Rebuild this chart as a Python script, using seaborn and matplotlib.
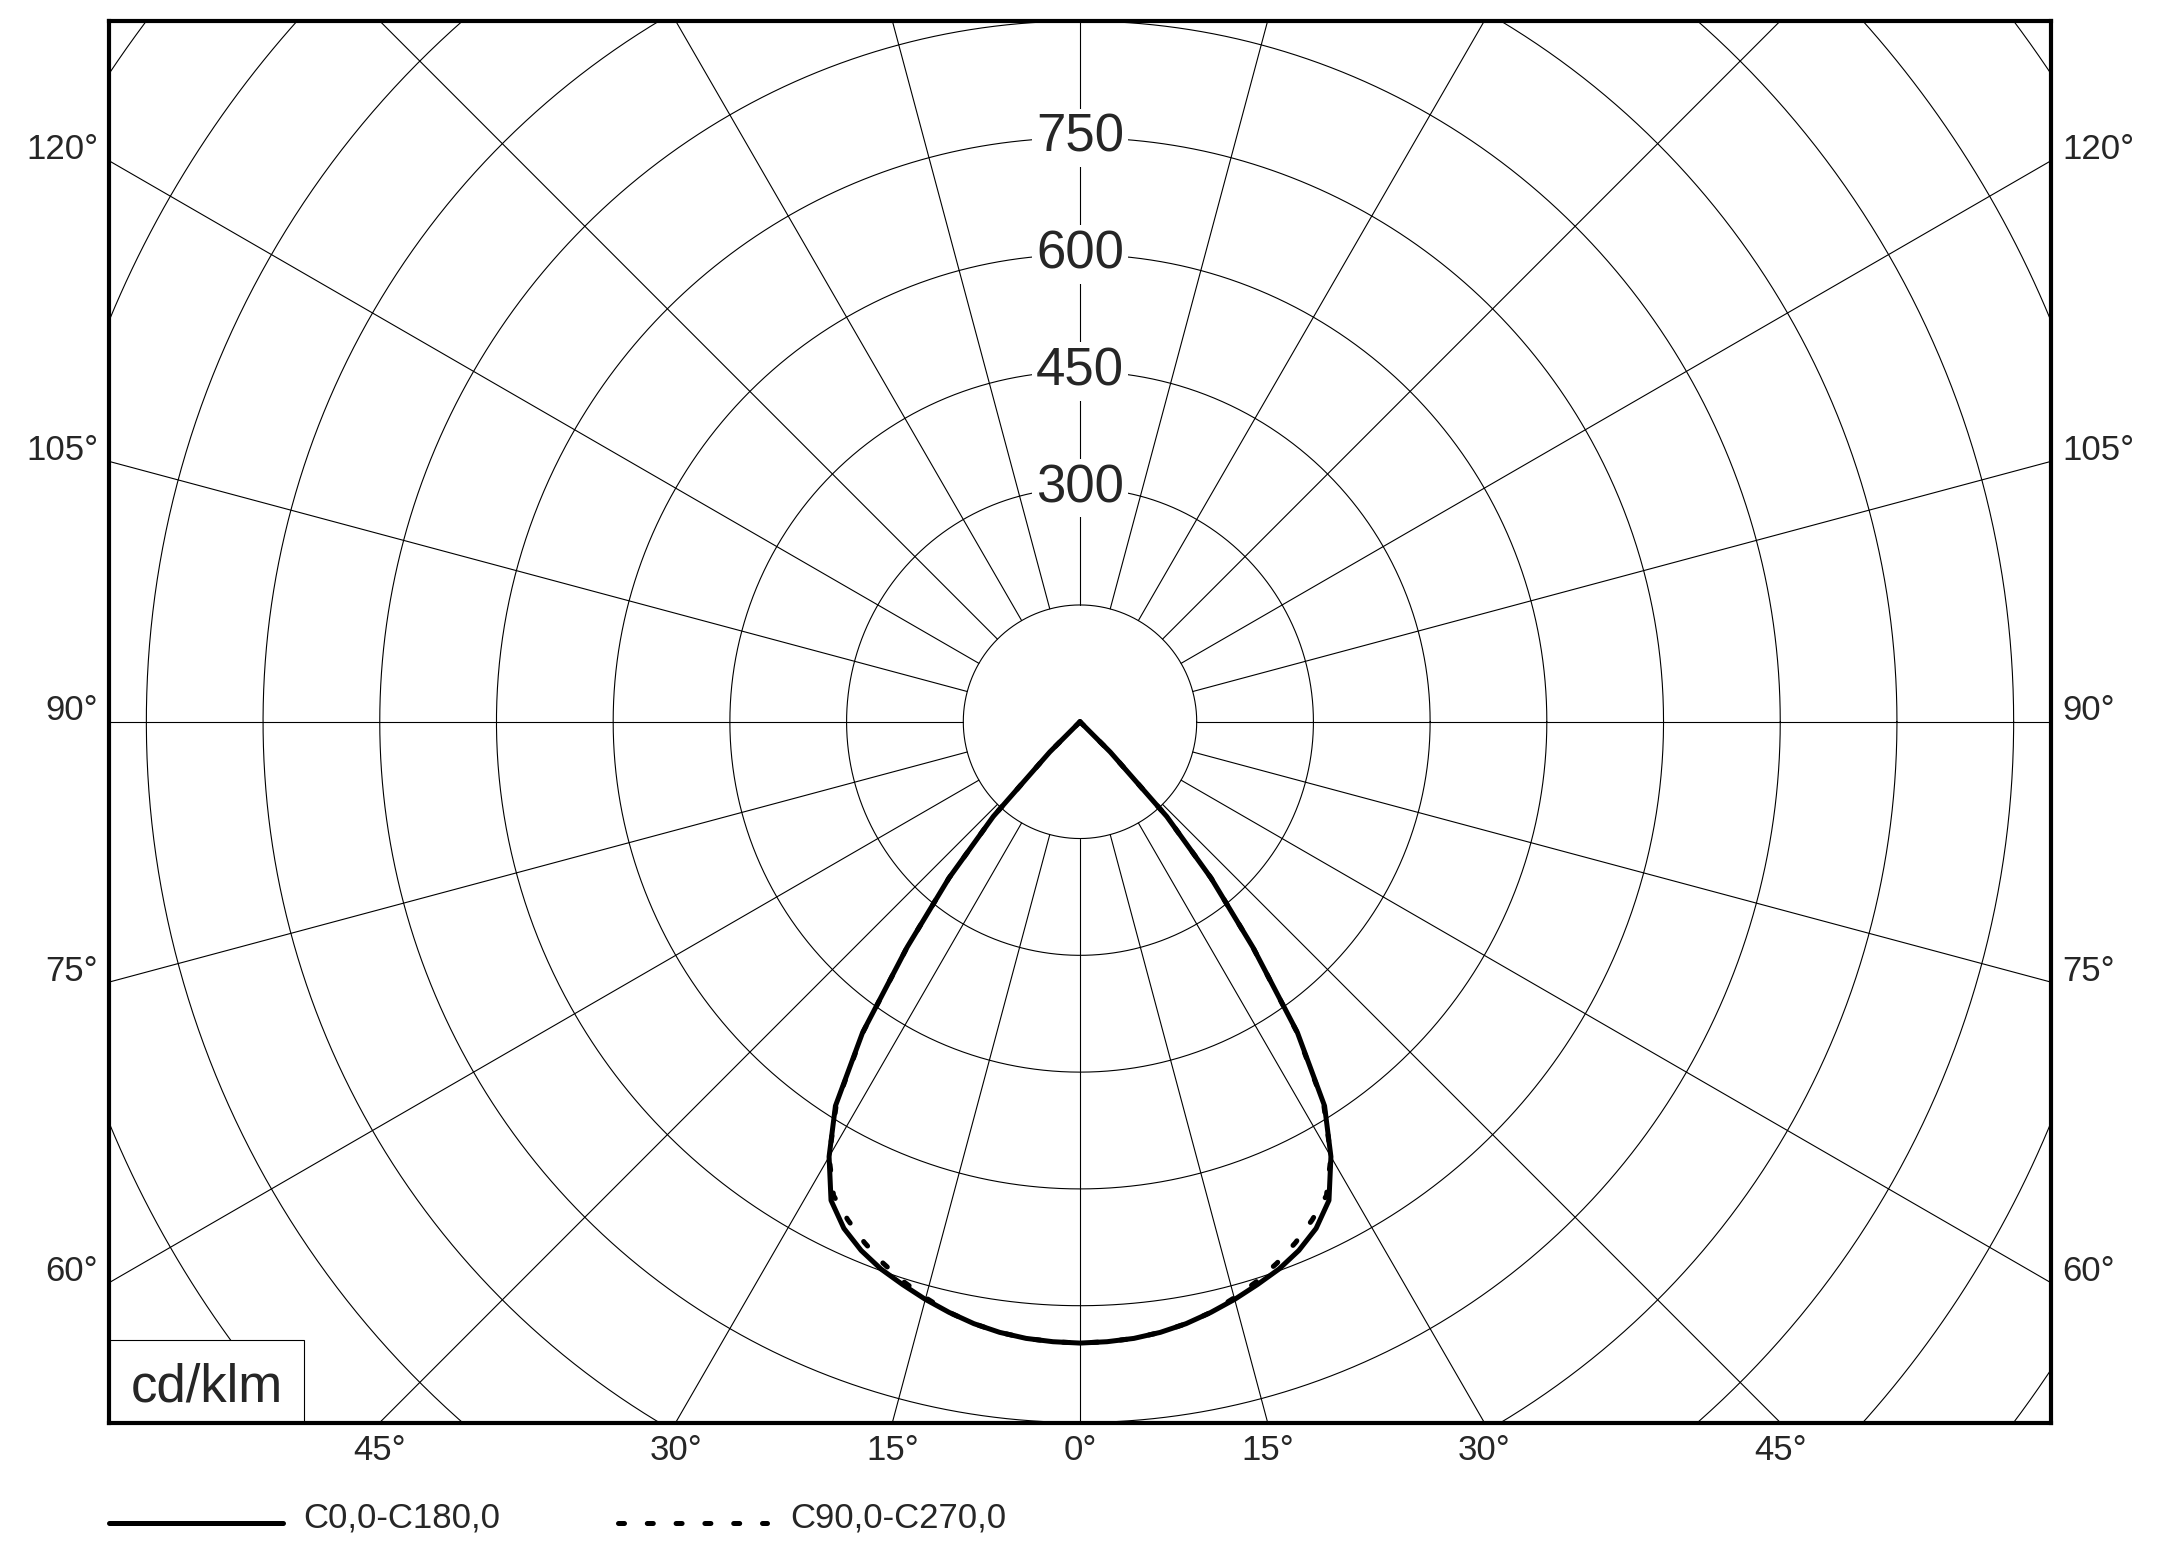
import numpy as np
import pandas as pd
import matplotlib
matplotlib.use('Agg')
import matplotlib.pyplot as plt
import seaborn as sns
from matplotlib.lines import Line2D
from matplotlib.patches import Rectangle

# gamma angles (deg from nadir) and intensities (cd/klm)
gamma = [0, 2.5, 5, 7.5, 10, 12.5, 15, 17.5, 20, 22.5, 25, 27.5, 30, 32.5, 35,
         37.5, 40, 42.5, 45, 47.5, 50, 52.5, 55, 57.5, 60, 62.5, 65, 67.5, 70,
         72.5, 75, 77.5, 80, 82.5, 85, 87.5, 90]
c0_c180 = [798, 797, 795, 791, 785, 777, 768, 758, 748, 735, 718, 693, 645, 585,
           487, 365, 262, 165, 55] + [0] * 18
c90_c270 = [798, 797, 795, 791, 785, 777, 766, 754, 740, 724, 706, 686, 645, 583,
            485, 365, 262, 165, 55] + [0] * 18

ring_values = [150, 300, 450, 600, 750, 900, 1050, 1200, 1350, 1500]
ring_labels = [300, 450, 600, 750]
side_angles = [60, 75, 90, 105, 120]
bottom_angles = [45, 30, 15, 0, 15, 30, 45]
series_names = ['C0,0-C180,0', 'C90,0-C270,0']

W, H = 2161, 1548
XL, YL = 1248, 900


def polar_xy(g, vals):
    g = np.asarray(g, float)
    v = np.asarray(vals, float)
    gg = np.concatenate([-g[::-1], g[1:]])
    vv = np.concatenate([v[::-1], v[1:]])
    t = np.radians(gg)
    return vv * np.sin(t), -vv * np.cos(t)


sns.set_style('white')
plt.rcParams['font.family'] = ['Liberation Sans', 'DejaVu Sans']

fig = plt.figure(figsize=(W / 100, H / 100), dpi=100)
ax = fig.add_axes([109 / W, 1 - 1422.5 / H, (2051 - 109) / W, (1422.5 - 21) / H])
ax.set_xlim(-XL, XL)
ax.set_ylim(-YL, YL)
ax.set_xticks([])
ax.set_yticks([])
for s in ax.spines.values():
    s.set_linewidth(3)
    s.set_color('black')
    s.set_zorder(6)

# polar grid
th = np.linspace(0, 2 * np.pi, 1441)
for r in ring_values:
    ax.plot(r * np.cos(th), r * np.sin(th), color='black', lw=0.8, zorder=1)
for a in range(0, 360, 15):
    t = np.radians(a)
    ax.plot([150 * np.sin(t), 2000 * np.sin(t)], [-150 * np.cos(t), -2000 * np.cos(t)],
            color='black', lw=0.8, zorder=1)

# curves
rows = []
for name, vals in zip(series_names, [c0_c180, c90_c270]):
    x, y = polar_xy(gamma, vals)
    rows.append(pd.DataFrame({'x': x, 'y': y, 'curve': name}))
df = pd.concat(rows, ignore_index=True)

dash = (0, (1.2, 4.56))
sns.lineplot(data=df[df['curve'] == series_names[1]], x='x', y='y', sort=False,
             estimator=None, color='black', lw=3.6, linestyle=dash,
             dash_capstyle='round', ax=ax, zorder=4, legend=False)
sns.lineplot(data=df[df['curve'] == series_names[0]], x='x', y='y', sort=False,
             estimator=None, color='black', lw=3.6, ax=ax, zorder=5, legend=False)
ax.set_xlabel('')
ax.set_ylabel('')

# ring labels
for r in ring_labels:
    ax.text(0, r, str(r), ha='center', va='center', fontsize=38, zorder=3,
            bbox=dict(facecolor='white', edgecolor='none', pad=3))

# side angle labels
for a in side_angles:
    yv = -XL / np.tan(np.radians(a))
    ax.text(-XL - 14, yv + 2, f'{a}°', ha='right', va='baseline', fontsize=25, clip_on=False)
    ax.text(XL + 15, yv + 2, f'{a}°', ha='left', va='baseline', fontsize=25, clip_on=False)

# bottom angle labels
for i, a in enumerate(bottom_angles):
    sign = -1 if i < 3 else 1
    xv = sign * YL * np.tan(np.radians(a))
    ax.text(xv, -YL - 15, f'{a}°', ha='center', va='top', fontsize=25, clip_on=False)

# unit box
ax.add_patch(Rectangle((-XL, -YL), 250.6, 106, facecolor='white', edgecolor='black',
                       lw=0.8, zorder=3))
ax.text(-XL + 125.3, -873, 'cd/klm', ha='center', va='baseline', fontsize=38, zorder=4)

# legend
ly = 1 - 1522.7 / H
fig.add_artist(Line2D([109 / W, 283 / W], [ly, ly], color='black', lw=3.6,
                      transform=fig.transFigure))
fig.text(303 / W, 1 - 1517.5 / H, series_names[0], va='center', fontsize=25)
fig.add_artist(Line2D([618 / W, 767 / W], [ly, ly], color='black', lw=3.6,
                      linestyle=dash, dash_capstyle='round', transform=fig.transFigure))
fig.text(790 / W, 1 - 1517.5 / H, series_names[1], va='center', fontsize=25)

fig.savefig('out.png', dpi=100, facecolor='white')
